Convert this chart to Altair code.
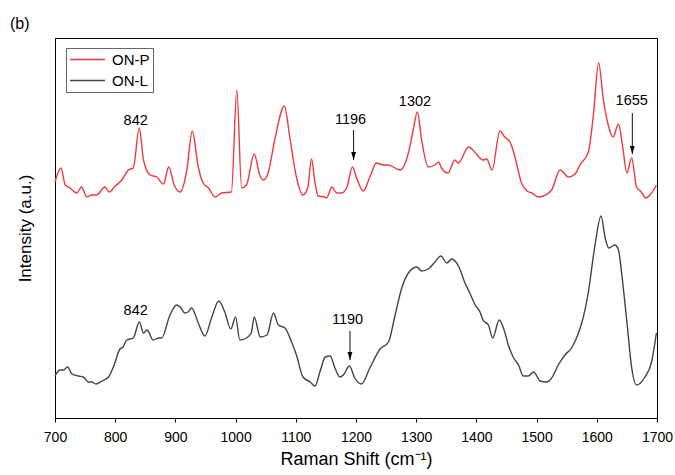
import altair as alt
import pandas as pd

FONT = "Liberation Sans"

# ON-P spectrum (red): Raman shift (cm-1) and intensity (a.u.)
red_shift = [700, 710, 717, 725, 736, 744, 753, 761, 769, 783, 790, 800, 811, 822, 830, 840,
             847, 858, 869, 880, 889, 898, 908, 919, 928, 938, 946, 955, 966, 977, 993, 1002,
             1010, 1018, 1031, 1040, 1046, 1054, 1065, 1081, 1090, 1101, 1112, 1120, 1126,
             1132, 1137, 1148, 1151, 1160, 1168, 1176, 1185, 1194, 1201, 1212, 1223, 1234,
             1245, 1254, 1273, 1287, 1295, 1302, 1309, 1320, 1331, 1337, 1342, 1353, 1364,
             1370, 1387, 1400, 1411, 1417, 1426, 1439, 1447, 1456, 1464, 1475, 1484, 1492,
             1503, 1511, 1525, 1539, 1553, 1564, 1572, 1586, 1594, 1603, 1611, 1619, 1627,
             1636, 1643, 1650, 1658, 1666, 1674, 1681, 1691, 1699]
red_intensity = [236, 250, 233, 230, 225, 231, 221, 223, 223, 231, 226, 232, 238, 248, 250, 290,
                 258, 243, 241, 234, 251, 233, 226, 248, 287, 251, 235, 230, 221, 225, 226, 328,
                 230, 233, 264, 243, 238, 245, 278, 312, 281, 241, 223, 231, 259,
                 235, 222, 221, 220, 231, 225, 225, 231, 251, 240, 227, 241, 255,
                 253, 253, 248, 265, 288, 306, 278, 251, 253, 256, 250, 245, 258,
                 255, 271, 264, 258, 259, 248, 287, 281, 276, 261, 235, 227, 225,
                 221, 222, 228, 248, 241, 244, 253, 266, 301, 355, 318, 293, 281,
                 294, 271, 245, 260, 231, 226, 220, 225, 233]

# ON-L spectrum (dark grey)
black_shift = [700, 708, 714, 721, 728, 739, 747, 755, 761, 768, 778, 789, 797, 808, 813, 819,
               830, 840, 847, 853, 863, 872, 877, 891, 902, 908, 916, 921, 927, 938, 949, 960,
               972, 982, 992, 1000, 1007, 1018, 1026, 1031, 1041, 1052, 1063, 1071, 1082, 1093,
               1101, 1112, 1124, 1132, 1140, 1149, 1157, 1165, 1173, 1179, 1189, 1198, 1209,
               1223, 1240, 1254, 1265, 1276, 1287, 1301, 1309, 1320, 1331, 1341, 1351, 1359,
               1371, 1381, 1389, 1398, 1406, 1411, 1420, 1427, 1438, 1446, 1453, 1461, 1470,
               1478, 1486, 1495, 1506, 1517, 1525, 1536, 1547, 1558, 1567, 1575, 1586, 1597,
               1607, 1614, 1620, 1630, 1636, 1641, 1650, 1658, 1666, 1680, 1691, 1699]
black_intensity = [42, 48, 48, 51, 44, 42, 41, 36, 36, 34, 37, 41, 51, 69, 71, 78,
                   80, 96, 85, 88, 78, 80, 80, 103, 113, 111, 105, 106, 110, 95, 82, 100,
                   117, 106, 89, 101, 78, 80, 85, 101, 81, 83, 105, 93, 90, 76,
                   63, 41, 36, 32, 46, 61, 62, 50, 41, 43, 52, 40, 34,
                   50, 69, 76, 103, 130, 145, 151, 147, 149, 156, 162, 155, 159,
                   151, 135, 125, 113, 106, 98, 93, 80, 98, 88, 73, 61, 53,
                   42, 42, 46, 37, 36, 40, 53, 63, 70, 81, 95, 126, 173,
                   202, 180, 170, 173, 168, 146, 96, 50, 33, 41, 56, 85]

series_names = ["ON-P", "ON-L"]
series_colors = ["#ee3a3c", "#444444"]

# peak annotations
label_text = ["842", "1196", "1302", "1655", "842", "1190"]
label_shift = [834, 1191, 1298, 1658, 834, 1186]
label_intensity = [297, 298, 316, 317, 107, 98]

arrow_shift = [1196, 1659, 1190]
arrow_start = [288, 305, 87]
arrow_tip = [258, 264, 58]

spectra = pd.concat([
    pd.DataFrame({"shift": red_shift, "intensity": red_intensity, "series": series_names[0]}),
    pd.DataFrame({"shift": black_shift, "intensity": black_intensity, "series": series_names[1]}),
])
labels = pd.DataFrame({"text": label_text, "shift": label_shift, "intensity": label_intensity})
arrows = pd.DataFrame({"shift": arrow_shift, "y1": arrow_start, "y2": arrow_tip})

x_scale = alt.Scale(domain=[700, 1700], nice=False, zero=False)
y_scale = alt.Scale(domain=[0, 380], nice=False, zero=False)

tick_vals = list(range(700, 1701, 50))

lines = alt.Chart(spectra).mark_line(strokeWidth=1.4, interpolate="monotone").encode(
    x=alt.X("shift:Q", scale=x_scale,
            axis=alt.Axis(title="Raman Shift (cm⁻¹)", values=tick_vals,
                          labelExpr="datum.value % 100 === 0 ? datum.label : ''",
                          format="d", grid=False, tickSize=4, labelPadding=8,
                          labelFlush=False, labelOverlap=False,
                          titlePadding=6, labelFontSize=14, titleFontSize=18,
                          labelFont=FONT, titleFont=FONT, titleFontWeight="normal")),
    y=alt.Y("intensity:Q", scale=y_scale,
            axis=alt.Axis(title="Intensity (a.u.)", labels=False, ticks=False, grid=False,
                          titlePadding=21, titleFontSize=17, titleFont=FONT,
                          titleFontWeight="normal")),
    color=alt.Color("series:N", sort=series_names,
                    scale=alt.Scale(domain=series_names, range=series_colors),
                    legend=alt.Legend(title=None, orient="none", legendX=11, legendY=10,
                                      symbolType="M-1,0H3.667", symbolSize=225,
                                      symbolStrokeWidth=1.5, labelFontSize=15,
                                      labelFont=FONT, labelOffset=26,
                                      strokeColor="#666666", padding=3,
                                      rowPadding=4, labelColor="#000000")),
    order=alt.Order("shift:Q"),
)

text = alt.Chart(labels).mark_text(font=FONT, fontSize=14.5, color="#000000",
                                   baseline="middle", align="center").encode(
    x=alt.X("shift:Q", scale=x_scale),
    y=alt.Y("intensity:Q", scale=y_scale),
    text="text:N",
)

stems = alt.Chart(arrows).mark_rule(color="#111111", strokeWidth=1).encode(
    x=alt.X("shift:Q", scale=x_scale),
    y=alt.Y("y1:Q", scale=y_scale),
    y2="y2:Q",
)

heads = alt.Chart(arrows).mark_point(shape="M-0.6,-2L0.6,-2L0,0Z", filled=True,
                                     color="#000000", size=64, opacity=1).encode(
    x=alt.X("shift:Q", scale=x_scale),
    y=alt.Y("y2:Q", scale=y_scale),
)

chart = alt.layer(lines, stems, heads, text).properties(
    width=602, height=380,
    autosize=alt.AutoSizeParams(type="none"),
    padding={"left": 55, "top": 38, "right": 18, "bottom": 57},
    background="#ffffff",
    title=alt.TitleParams("(b)", anchor="start", frame="group", dx=-45, offset=6,
                          font=FONT, fontSize=16, fontWeight="normal", color="#000000"),
).configure_view(stroke="#000000", strokeWidth=1).configure_axis(
    domainColor="#000000", tickColor="#000000", labelColor="#000000",
    titleColor="#000000", domainWidth=1,
)

chart.save("out.html", embed_options={"renderer": "svg", "actions": False})
